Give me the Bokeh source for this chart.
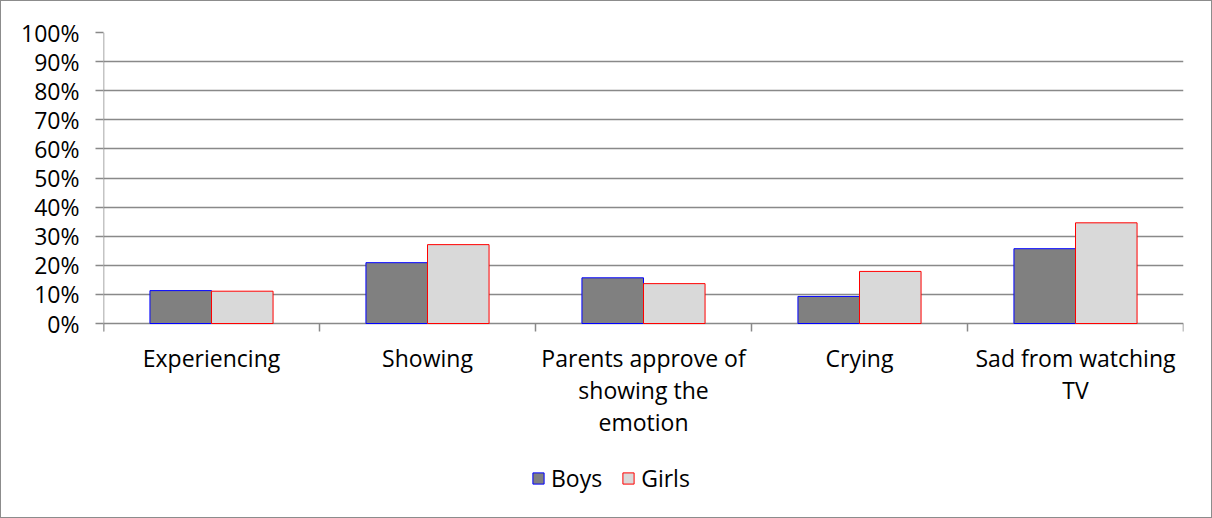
from bokeh.plotting import figure
from bokeh.models import FixedTicker, NumeralTickFormatter, Range1d, Legend, LegendItem, ColumnDataSource
from bokeh.core.properties import value
from bokeh.embed import file_html
from bokeh.resources import INLINE

categories = ["Experiencing", "Showing", "Parents approve of\nshowing the\nemotion", "Crying", "Sad from watching\nTV"]
boys = [0.113, 0.209, 0.157, 0.093, 0.257]
girls = [0.111, 0.271, 0.137, 0.179, 0.346]
y_ticks = [0.0, 0.1, 0.2, 0.3, 0.4, 0.5, 0.6, 0.7, 0.8, 0.9, 1.0]

FONT = "Open Sans"
FS = "23px"
GRAY = "#898989"

n = len(categories)
centers = [i + 0.5 for i in range(n)]
bounds = list(range(n + 1))
bw = 0.285

PLOT_H = 291          # pixel height of the 0..100% value area
FRAME_H = 484         # frame extends below to hold category labels and legend
y_start = -(FRAME_H - PLOT_H) / PLOT_H
px = 1.0 / PLOT_H     # one pixel in data units

p = figure(frame_width=1080, frame_height=FRAME_H, output_backend="svg", toolbar_location=None,
           x_range=Range1d(0, n), y_range=Range1d(y_start, 1),
           min_border_left=102, min_border_top=31, min_border_right=28, min_border_bottom=1)
p.styles = {"border": "1px solid #8c8c8c"}
p.outline_line_color = None
p.background_fill_color = "white"
p.xaxis.visible = False
p.xgrid.visible = False

# gridlines (0..100%)
p.ygrid.ticker = FixedTicker(ticks=y_ticks)
p.ygrid.grid_line_color = GRAY
p.ygrid.grid_line_width = 1.5

# y axis
ya = p.yaxis[0]
ya.ticker = FixedTicker(ticks=y_ticks)
ya.formatter = NumeralTickFormatter(format="0%")
ya.major_tick_out = 8
ya.major_tick_in = 0
ya.minor_tick_out = 0
ya.minor_tick_in = 0
ya.major_tick_line_color = GRAY
ya.major_tick_line_width = 1.5
ya.axis_line_color = None
ya.major_label_standoff = 16
ya.major_label_text_font = FONT
ya.major_label_text_font_size = FS
ya.major_label_text_color = "black"

# axis lines and category tick marks
p.segment(x0=[0], y0=[-8 * px], x1=[0], y1=[1], line_color=GRAY, line_width=1.5)
p.segment(x0=bounds, y0=[0] * len(bounds), x1=bounds, y1=[-8 * px] * len(bounds),
          line_color=GRAY, line_width=1.5)

# bars
src_b = ColumnDataSource(dict(x=[c - bw / 2 for c in centers], top=boys))
src_g = ColumnDataSource(dict(x=[c + bw / 2 for c in centers], top=girls))
rb = p.vbar(x="x", top="top", width=bw, bottom=0, source=src_b, fill_color="#808080", line_color="#0000ff", line_width=1)
rg = p.vbar(x="x", top="top", width=bw, bottom=0, source=src_g, fill_color="#d9d9d9", line_color="#ff0000", line_width=1)

# category labels
p.text(x=centers, y=[-18.5 * px] * n, text=categories, text_align="center", text_baseline="top",
       text_font=value(FONT), text_font_size=FS, text_color="black", text_line_height=1.0)

legend = Legend(items=[LegendItem(label="Boys", renderers=[rb]), LegendItem(label="Girls", renderers=[rg])],
                orientation="horizontal", location=(428, 22),
                label_text_font=FONT, label_text_font_size=FS, label_text_color="black",
                glyph_width=14, glyph_height=14, label_standoff=6, spacing=19,
                border_line_color=None, background_fill_alpha=0,
                margin=0, padding=0)
p.add_layout(legend, "center")

open("out.html", "w").write(file_html(p, INLINE))
